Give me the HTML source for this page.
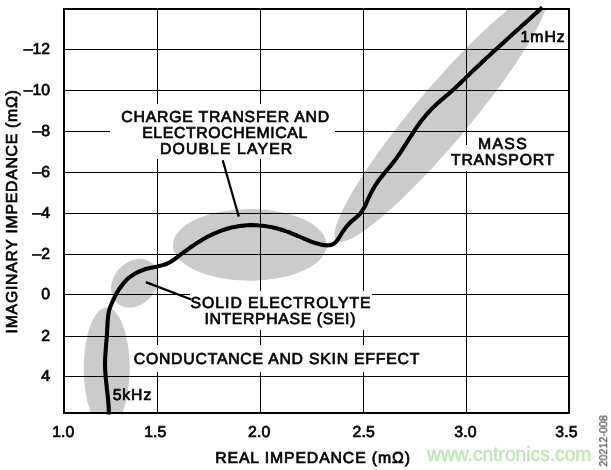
<!DOCTYPE html>
<html><head><meta charset="utf-8"><title>Impedance plot</title>
<style>
html,body{margin:0;padding:0;background:#fff;}
svg{display:block;}
text{font-family:"Liberation Sans",Arial,Helvetica,sans-serif;}
</style></head><body>
<svg width="611" height="470" viewBox="0 0 611 470">
<rect width="611" height="470" fill="#fff"/>
<defs><clipPath id="cp"><rect x="64" y="9" width="505" height="404"/></clipPath></defs>
<g clip-path="url(#cp)" fill="#cbcbcb">
<ellipse cx="106.7" cy="368.5" rx="23" ry="61"/>
<ellipse cx="134.7" cy="283.2" rx="26.6" ry="21.2" transform="rotate(-48.7 134.7 283.2)"/>
<ellipse cx="249.8" cy="244.9" rx="76.8" ry="35.9"/>
<ellipse cx="441.1" cy="116.5" rx="162.3" ry="27.4" transform="rotate(-49.9 441.1 116.5)"/>
</g>
<path d="M64 49.5H569M64 90.5H569M64 131.5H110M335 131.5H569M64 172.5H569M64 213.5H569M64 254.5H569M64 294.5H190M372 294.5H569M64 336.5H569M64 376.5H569M157.5 9V104M157.5 158.5V345M157.5 372V413M260.5 9V104M260.5 158.5V290.5M260.5 330V345M260.5 372V413M363.5 9V290.5M363.5 330V345M363.5 372V413M466.5 9V145M466.5 171V413" stroke="#000" stroke-width="1" fill="none" shape-rendering="crispEdges"/>
<rect x="64" y="9" width="505" height="404" fill="none" stroke="#000" stroke-width="2" shape-rendering="crispEdges"/>
<path d="M222.7 160.3L238.8 216.6M145.8 282.1L191.3 299.5" stroke="#000" stroke-width="2.2" fill="none"/>
<path d="M108.9 414.6 C108.9 413.9 108.9 411.7 108.8 410.3 C108.8 408.9 108.7 407.5 108.6 406.0 C108.5 404.6 108.4 403.2 108.3 401.8 C108.2 400.3 108.0 398.9 107.9 397.5 C107.8 396.1 107.6 394.6 107.4 393.2 C107.3 391.8 107.1 390.4 106.9 388.9 C106.8 387.5 106.6 386.1 106.5 384.6 C106.3 383.2 106.1 381.8 106.0 380.4 C105.9 378.9 105.7 377.5 105.6 376.1 C105.5 374.7 105.4 373.2 105.3 371.8 C105.2 370.4 105.1 368.9 105.1 367.5 C105.1 366.1 105.0 364.7 105.0 363.2 C105.0 361.8 105.1 360.4 105.1 359.0 C105.2 357.5 105.3 356.1 105.4 354.7 C105.4 353.2 105.5 351.8 105.7 350.4 C105.8 349.0 105.9 347.5 106.0 346.1 C106.1 344.7 106.2 343.3 106.4 341.8 C106.5 340.4 106.6 339.0 106.7 337.5 C106.8 336.1 106.9 334.7 107.0 333.3 C107.1 331.8 107.1 330.4 107.2 329.0 C107.3 327.5 107.4 326.1 107.5 324.7 C107.5 323.2 107.6 321.8 107.7 320.4 C107.9 318.9 108.0 317.5 108.2 316.1 C108.3 314.7 108.5 313.3 108.8 311.9 C109.1 310.5 109.5 309.1 110.0 307.8 C110.4 306.4 111.0 305.1 111.5 303.8 C112.1 302.5 112.7 301.2 113.3 299.9 C113.9 298.6 114.5 297.3 115.2 296.0 C115.8 294.8 116.5 293.5 117.2 292.3 C118.0 291.0 118.7 289.8 119.5 288.6 C120.3 287.4 121.2 286.2 122.1 285.1 C122.9 283.9 123.9 282.8 124.8 281.8 C125.8 280.7 126.8 279.7 127.8 278.8 C128.9 277.8 130.0 276.9 131.2 276.1 C132.3 275.3 133.5 274.5 134.7 273.8 C136.0 273.1 137.2 272.4 138.5 271.8 C139.8 271.2 141.2 270.7 142.5 270.2 C143.9 269.7 145.3 269.2 146.6 268.8 C148.0 268.4 149.5 268.1 150.9 267.8 C152.3 267.5 153.7 267.2 155.1 266.9 C156.6 266.6 158.0 266.4 159.4 266.0 C160.8 265.7 162.1 265.4 163.5 264.9 C164.8 264.5 166.1 264.0 167.4 263.4 C168.7 262.8 169.9 262.1 171.1 261.4 C172.3 260.7 173.5 259.9 174.7 259.1 C175.8 258.3 177.0 257.4 178.1 256.6 C179.3 255.7 180.4 254.8 181.6 253.9 C182.7 253.1 183.9 252.2 185.0 251.3 C186.2 250.5 187.4 249.6 188.5 248.8 C189.7 247.9 190.9 247.1 192.1 246.3 C193.3 245.5 194.4 244.7 195.6 243.9 C196.8 243.1 198.1 242.3 199.3 241.6 C200.5 240.8 201.7 240.1 203.0 239.3 C204.2 238.6 205.4 237.9 206.7 237.2 C208.0 236.6 209.2 235.9 210.5 235.3 C211.8 234.6 213.1 234.0 214.4 233.5 C215.7 232.9 217.0 232.3 218.3 231.8 C219.6 231.3 220.9 230.8 222.3 230.3 C223.6 229.8 225.0 229.4 226.4 229.0 C227.7 228.6 229.1 228.2 230.5 227.8 C231.9 227.5 233.3 227.2 234.7 226.9 C236.1 226.6 237.5 226.4 238.9 226.1 C240.4 225.9 241.8 225.7 243.2 225.6 C244.6 225.4 246.1 225.3 247.5 225.2 C248.9 225.2 250.4 225.1 251.8 225.1 C253.2 225.1 254.6 225.1 256.1 225.2 C257.5 225.3 258.9 225.4 260.4 225.5 C261.8 225.6 263.2 225.8 264.6 226.0 C266.0 226.2 267.4 226.4 268.8 226.7 C270.2 226.9 271.7 227.2 273.0 227.5 C274.4 227.9 275.8 228.2 277.2 228.6 C278.6 228.9 280.0 229.3 281.4 229.7 C282.7 230.2 284.1 230.6 285.5 231.1 C286.8 231.5 288.2 232.0 289.5 232.5 C290.8 233.0 292.2 233.6 293.5 234.1 C294.8 234.7 296.1 235.2 297.4 235.8 C298.8 236.4 300.1 236.9 301.4 237.5 C302.7 238.1 304.0 238.6 305.3 239.2 C306.6 239.8 308.0 240.3 309.3 240.8 C310.6 241.3 312.0 241.8 313.3 242.3 C314.7 242.8 316.1 243.2 317.4 243.6 C318.8 244.0 320.3 244.4 321.7 244.7 C323.1 245.0 324.6 245.2 326.0 245.3 C327.4 245.4 328.8 245.4 330.1 245.1 C331.4 244.9 332.6 244.4 333.7 243.7 C334.8 243.0 335.8 241.9 336.8 240.8 C337.7 239.8 338.6 238.4 339.4 237.2 C340.2 235.9 341.0 234.5 341.8 233.2 C342.6 232.0 343.4 230.8 344.2 229.6 C345.1 228.4 345.9 227.3 346.8 226.2 C347.7 225.2 348.6 224.2 349.6 223.2 C350.5 222.2 351.6 221.3 352.7 220.4 C353.8 219.4 355.0 218.5 356.0 217.6 C357.1 216.6 358.2 215.7 359.2 214.6 C360.2 213.6 361.1 212.5 361.9 211.3 C362.7 210.1 363.4 208.9 364.1 207.7 C364.8 206.4 365.4 205.1 366.0 203.8 C366.6 202.5 367.2 201.2 367.8 199.8 C368.4 198.5 368.9 197.2 369.6 195.9 C370.2 194.6 370.8 193.4 371.5 192.1 C372.2 190.8 372.8 189.6 373.5 188.4 C374.3 187.1 375.0 185.9 375.8 184.7 C376.5 183.5 377.3 182.3 378.1 181.2 C379.0 180.0 379.8 178.9 380.7 177.8 C381.6 176.6 382.5 175.5 383.4 174.4 C384.3 173.3 385.2 172.2 386.1 171.1 C387.1 170.0 388.0 168.9 388.9 167.8 C389.8 166.7 390.7 165.6 391.6 164.5 C392.5 163.4 393.4 162.2 394.3 161.1 C395.1 160.0 396.0 158.8 396.8 157.6 C397.6 156.5 398.5 155.3 399.3 154.1 C400.1 153.0 400.9 151.8 401.6 150.6 C402.4 149.4 403.2 148.2 404.0 147.0 C404.8 145.8 405.5 144.6 406.3 143.3 C407.1 142.1 407.8 140.9 408.6 139.7 C409.4 138.5 410.1 137.3 410.9 136.1 C411.7 134.9 412.4 133.7 413.2 132.5 C414.0 131.3 414.8 130.1 415.6 128.9 C416.4 127.7 417.2 126.5 418.1 125.3 C418.9 124.2 419.7 123.0 420.6 121.9 C421.4 120.7 422.3 119.6 423.2 118.5 C424.1 117.4 425.0 116.3 425.9 115.2 C426.9 114.1 427.8 113.1 428.8 112.0 C429.7 111.0 430.7 109.9 431.7 108.9 C432.7 107.9 433.7 106.9 434.7 105.9 C435.8 104.9 436.8 104.0 437.9 103.0 C439.0 102.0 440.0 101.1 441.1 100.2 C442.2 99.2 443.3 98.3 444.4 97.4 C445.5 96.5 446.6 95.6 447.7 94.6 C448.8 93.7 449.9 92.8 451.0 91.8 C452.0 90.9 453.1 89.9 454.2 88.9 C455.2 88.0 456.3 87.0 457.3 86.0 C458.3 85.0 459.4 84.0 460.4 83.0 C461.4 82.1 462.4 81.1 463.5 80.1 C464.5 79.1 465.5 78.1 466.5 77.1 C467.6 76.1 468.6 75.1 469.6 74.1 C470.6 73.1 471.7 72.1 472.7 71.1 C473.7 70.1 474.8 69.1 475.8 68.1 C476.8 67.2 477.9 66.2 478.9 65.2 C480.0 64.2 481.0 63.2 482.0 62.2 C483.1 61.3 484.1 60.3 485.2 59.3 C486.2 58.3 487.3 57.4 488.3 56.4 C489.4 55.4 490.4 54.5 491.5 53.5 C492.5 52.5 493.6 51.6 494.6 50.6 C495.7 49.6 496.8 48.7 497.8 47.7 C498.9 46.7 499.9 45.8 501.0 44.8 C502.0 43.8 503.1 42.9 504.2 41.9 C505.2 40.9 506.3 40.0 507.3 39.0 C508.4 38.1 509.5 37.1 510.5 36.1 C511.6 35.2 512.7 34.2 513.7 33.3 C514.8 32.3 515.8 31.3 516.9 30.4 C518.0 29.4 519.0 28.5 520.1 27.5 C521.2 26.6 522.2 25.6 523.3 24.6 C524.3 23.7 525.4 22.7 526.5 21.8 C527.5 20.8 528.6 19.8 529.6 18.9 C530.7 17.9 531.8 17.0 532.8 16.0 C533.9 15.0 534.9 14.1 536.0 13.1 C537.1 12.2 538.1 11.2 539.2 10.2 C540.2 9.3 541.8 7.8 542.3 7.3" stroke="#000" stroke-width="4.1" fill="none" stroke-linejoin="round"/>
<g fill="#000" stroke="#000" stroke-width="0.7" style="filter:grayscale(1);text-rendering:geometricPrecision">
<text x="50.1" y="54.4" text-anchor="end" font-size="15.8">–12</text>
<text x="50.1" y="95.4" text-anchor="end" font-size="15.8">–10</text>
<text x="50.1" y="136.4" text-anchor="end" font-size="15.8">–8</text>
<text x="50.1" y="177.4" text-anchor="end" font-size="15.8">–6</text>
<text x="50.1" y="218.4" text-anchor="end" font-size="15.8">–4</text>
<text x="50.1" y="259.4" text-anchor="end" font-size="15.8">–2</text>
<text x="50.1" y="299.4" text-anchor="end" font-size="15.8">0</text>
<text x="50.1" y="341.4" text-anchor="end" font-size="15.8">2</text>
<text x="50.1" y="381.4" text-anchor="end" font-size="15.8">4</text>
<text x="52.2" y="437.2" textLength="22.2" lengthAdjust="spacing" font-size="15.8">1.0</text>
<text x="144.2" y="437.2" textLength="22.2" lengthAdjust="spacing" font-size="15.8">1.5</text>
<text x="248.1" y="437.2" textLength="22.2" lengthAdjust="spacing" font-size="15.8">2.0</text>
<text x="352.5" y="437.2" textLength="22.2" lengthAdjust="spacing" font-size="15.8">2.5</text>
<text x="454.3" y="437.2" textLength="22.2" lengthAdjust="spacing" font-size="15.8">3.0</text>
<text x="555.3" y="437.2" textLength="22.2" lengthAdjust="spacing" font-size="15.8">3.5</text>
<text x="215.2" y="463.3" textLength="194.8" lengthAdjust="spacing" font-size="15.8">REAL IMPEDANCE (mΩ)</text>
<text x="121.3" y="122.1" textLength="207.8" lengthAdjust="spacing" font-size="15.8">CHARGE TRANSFER AND</text>
<text x="142.2" y="138.0" textLength="165.0" lengthAdjust="spacing" font-size="15.8">ELECTROCHEMICAL</text>
<text x="160.0" y="154.1" textLength="132.2" lengthAdjust="spacing" font-size="15.8">DOUBLE LAYER</text>
<text x="478.1" y="149.4" textLength="48.6" lengthAdjust="spacing" font-size="15.8">MASS</text>
<text x="451.0" y="164.6" textLength="103.2" lengthAdjust="spacing" font-size="15.8">TRANSPORT</text>
<text x="520.5" y="41.5" textLength="44.2" lengthAdjust="spacing" font-size="15.8">1mHz</text>
<text x="190.6" y="308.1" textLength="180.0" lengthAdjust="spacing" font-size="15.8">SOLID ELECTROLYTE</text>
<text x="204.4" y="324.3" textLength="151.0" lengthAdjust="spacing" font-size="15.8">INTERPHASE (SEI)</text>
<text x="133.7" y="364.2" textLength="285.6" lengthAdjust="spacing" font-size="15.8">CONDUCTANCE AND SKIN EFFECT</text>
<text x="112.7" y="399.6" textLength="38.6" lengthAdjust="spacing" font-size="15.8">5kHz</text>
<text transform="translate(16.5 333.4) rotate(-90)" x="0" y="0" textLength="243.2" lengthAdjust="spacing" font-size="15.8">IMAGINARY IMPEDANCE (mΩ)</text>
<text transform="translate(607.2 466.6) rotate(-90)" x="0" y="0" textLength="51.6" lengthAdjust="spacingAndGlyphs" font-size="11.5" fill="#222" stroke="none">20212-008</text>
</g>
<text x="427" y="460.8" textLength="164.4" lengthAdjust="spacing" font-size="19.3" fill="#c0e5b8" stroke="#c0e5b8" stroke-width="0.4">www.cntronics.com</text>

</svg>
</body></html>
